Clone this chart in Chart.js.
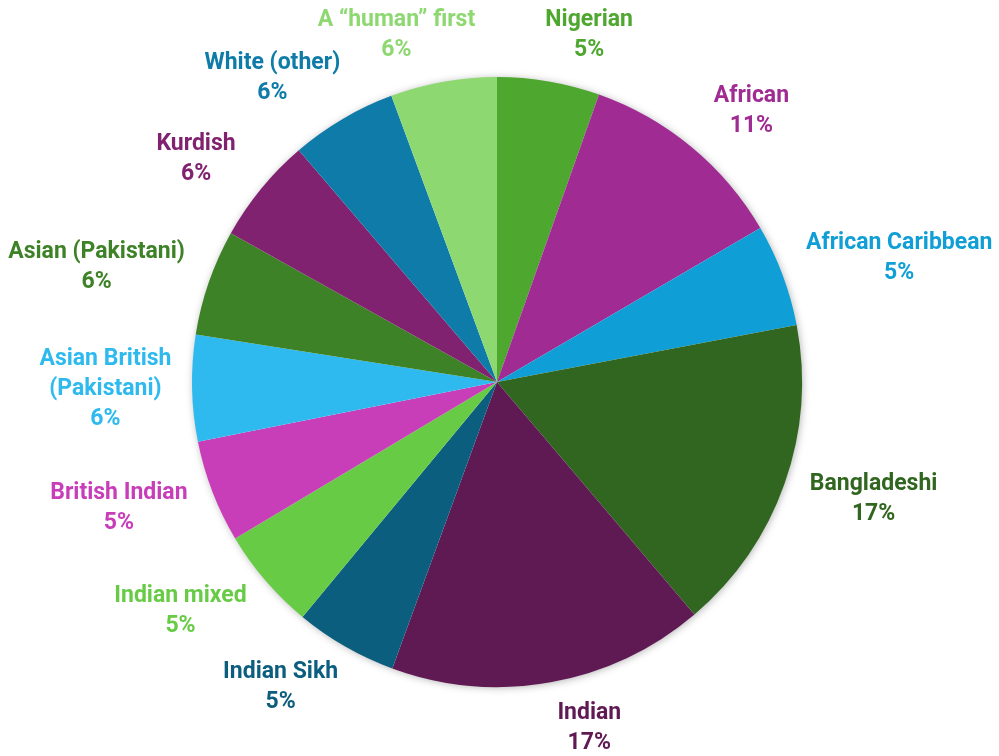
<!DOCTYPE html>
<html>
<head>
<meta charset="utf-8">
<script src="https://cdn.jsdelivr.net/npm/chart.js@4/dist/chart.umd.min.js"></script>
<style>
  body { margin: 0; background: #fff; }
  canvas { display: block; }
</style>
</head>
<body>
<canvas id="pieChart" width="999" height="756"></canvas>
<script>
// groups, clockwise from 12 o'clock
const groups = [
  'Nigerian', 'African', 'African Caribbean', 'Bangladeshi', 'Indian',
  'Indian Sikh', 'Indian mixed', 'British Indian', ['Asian British', '(Pakistani)'],
  'Asian (Pakistani)', 'Kurdish', 'White (other)', 'A \u201chuman\u201d first'
];
// share of respondents, %
const shares = [5.4, 11.1, 5.4, 16.7, 16.7, 5.4, 5.4, 5.4, 5.6, 5.6, 5.6, 5.6, 5.6];
const sliceColors = [
  '#4EA72E', '#A02B93', '#0F9ED5', '#30661F', '#5F1A54',
  '#0C5E7F', '#68CB46', '#C83DB8', '#2EBAEE',
  '#3E8227', '#80226F', '#0E7BA8', '#8ED872'
];

const total = shares.reduce((a, b) => a + b, 0);
const FONT = 'bold 23px Roboto, "Noto Sans", sans-serif';
const LINE = 30;

// soft shadow under the pie
const pieShadow = {
  id: 'pieShadow',
  beforeDatasetsDraw(chart) {
    const arc = chart.getDatasetMeta(0).data[0];
    if (!arc) return;
    const { x, y, outerRadius } = arc.getProps(['x', 'y', 'outerRadius'], true);
    const c = chart.ctx;
    c.save();
    c.shadowColor = 'rgba(0,0,0,0.35)';
    c.shadowBlur = 9;
    c.shadowOffsetX = 1;
    c.shadowOffsetY = 1;
    c.fillStyle = '#fff';
    c.beginPath();
    c.arc(x, y, outerRadius - 1, 0, Math.PI * 2);
    c.fill();
    c.restore();
  }
};

// name + percent outside each slice, in the slice colour
const outsideLabels = {
  id: 'outsideLabels',
  afterDatasetsDraw(chart) {
    const c = chart.ctx;
    const meta = chart.getDatasetMeta(0);
    c.save();
    c.font = FONT;
    c.textAlign = 'center';
    c.textBaseline = 'middle';
    meta.data.forEach((arc, i) => {
      const p = arc.getProps(['x', 'y', 'startAngle', 'endAngle', 'outerRadius'], true);
      const mid = (p.startAngle + p.endAngle) / 2;
      const ux = Math.cos(mid), uy = Math.sin(mid);
      const name = Array.isArray(groups[i]) ? groups[i] : [groups[i]];
      const lines = name.concat(Math.round(shares[i] / total * 100) + '%');
      const w = Math.max(...lines.map(t => c.measureText(t).width));
      const h = lines.length * LINE - 6;
      const r = p.outerRadius + 20;
      // labels near the top and bottom get pushed sideways to keep clear of each other
      const cx = p.x + r * ux + w / 2 * ux + Math.sign(ux) * 30 * Math.abs(uy);
      const cy = p.y + r * uy + h / 2 * uy;
      c.fillStyle = sliceColors[i];
      lines.forEach((t, k) => {
        c.fillText(t, cx, cy - (lines.length - 1) * LINE / 2 + k * LINE);
      });
    });
    c.restore();
  }
};

new Chart(document.getElementById('pieChart'), {
  type: 'pie',
  data: {
    labels: groups,
    datasets: [{
      data: shares,
      backgroundColor: sliceColors,
      borderWidth: 0
    }]
  },
  options: {
    responsive: false,
    animation: false,
    layout: { padding: { top: 77, bottom: 69, left: 192, right: 197 } },
    plugins: {
      legend: { display: false },
      tooltip: { enabled: false }
    }
  },
  plugins: [pieShadow, outsideLabels]
});
</script>
</body>
</html>
